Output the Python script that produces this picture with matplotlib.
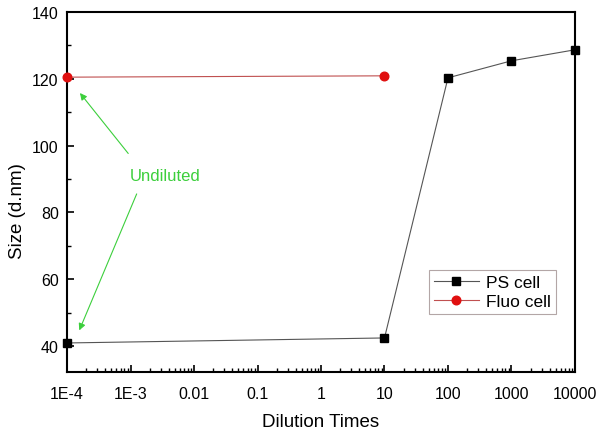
import matplotlib

matplotlib.use("Agg")
import matplotlib.pyplot as plt
from matplotlib.ticker import FixedLocator, LogLocator, MultipleLocator, NullFormatter

plt.rcParams["font.family"] = ["Liberation Sans", "DejaVu Sans"]

# Data
ps_x = [1e-4, 10, 100, 1000, 10000]
ps_y = [40.9, 42.4, 120.3, 125.4, 128.7]
fluo_x = [1e-4, 10]
fluo_y = [120.5, 120.9]
xtick_vals = [1e-4, 1e-3, 0.01, 0.1, 1, 10, 100, 1000, 10000]
xtick_labels = ["1E-4", "1E-3", "0.01", "0.1", "1", "10", "100", "1000", "10000"]

GREEN = "#3ccf3c"

fig = plt.figure(figsize=(6, 4.35), dpi=100)
ax = fig.add_axes([0.1117, 0.1425, 0.8466, 0.8275])

ax.plot(ps_x, ps_y, color="#555555", lw=0.8, marker="s", ms=6,
        mfc="black", mec="black", label="PS cell", clip_on=False, zorder=3)
ax.plot(fluo_x, fluo_y, color="#c05050", lw=0.8, marker="o", ms=6.2,
        mfc="#e01010", mec="#e01010", label="Fluo cell", clip_on=False, zorder=3)

ax.set_xscale("log")
ax.set_xlim(1e-4, 1e4)
ax.set_ylim(32.2, 140)
ax.xaxis.set_major_locator(FixedLocator(xtick_vals))
ax.set_xticklabels(xtick_labels)
ax.xaxis.set_minor_locator(LogLocator(base=10, subs=range(2, 10), numticks=20))
ax.xaxis.set_minor_formatter(NullFormatter())
ax.yaxis.set_major_locator(FixedLocator([40, 60, 80, 100, 120, 140]))
ax.yaxis.set_minor_locator(MultipleLocator(10))

ax.tick_params(which="major", direction="in", length=5, width=1.2,
               labelsize=11.5, top=False, right=False)
ax.tick_params(axis="x", which="major", pad=10)
ax.tick_params(axis="y", which="major", pad=6)
ax.tick_params(which="minor", direction="in", length=3, width=1.0,
               top=False, right=False)
for spine in ax.spines.values():
    spine.set_linewidth(1.5)

ax.set_xlabel("Dilution Times", fontsize=13.5, labelpad=9)
ax.set_ylabel("Size (d.nm)", fontsize=13.5)
ax.yaxis.set_label_coords(-0.081, 0.45)

# "Undiluted" callout with two arrows
ax.text(3.5e-3, 91, "Undiluted", color=GREEN, fontsize=12,
        ha="center", va="center")
arrow_kw = dict(arrowstyle="-|>", color=GREEN, lw=0.8, mutation_scale=10)
ax.annotate("", xy=(1.5e-4, 116.4), xytext=(9.8e-4, 97), arrowprops=arrow_kw)
ax.annotate("", xy=(1.5e-4, 43.9), xytext=(1.3e-3, 86.3), arrowprops=arrow_kw)

leg = ax.legend(loc="lower right", bbox_to_anchor=(0.9626, 0.161), fontsize=12.5,
                frameon=True, fancybox=False, edgecolor="#a09090",
                handlelength=2.6, handletextpad=0.4, borderpad=0.3,
                borderaxespad=0, labelspacing=0.2)
leg.get_frame().set_linewidth(0.8)

fig.savefig("out.png", dpi=100)
